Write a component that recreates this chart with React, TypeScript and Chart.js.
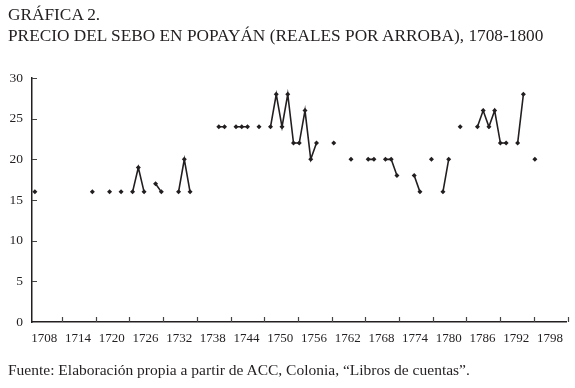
import React, { useEffect, useRef } from "react";
import { Chart, registerables } from "chart.js";

Chart.register(...registerables);

// Observed years and prices (reales por arroba)
const YEARS = [
  1708, 1718, 1721, 1723, 1725, 1726, 1727, 1729, 1730, 1733, 1734, 1735,
  1740, 1741, 1743, 1744, 1745, 1747, 1749, 1750, 1751, 1752, 1753, 1754,
  1755, 1756, 1757, 1760, 1763, 1766, 1767, 1769, 1770, 1771, 1774, 1775,
  1777, 1779, 1780, 1782, 1785, 1786, 1787, 1788, 1789, 1790, 1792, 1793, 1795,
];
const PRICES = [
  16, 16, 16, 16, 16, 19, 16, 17, 16, 16, 20, 16,
  24, 24, 24, 24, 24, 24, 24, 28, 24, 28, 22, 22,
  26, 20, 22, 22, 20, 20, 20, 20, 20, 18, 18, 16,
  20, 16, 20, 24, 24, 26, 24, 26, 22, 22, 22, 28, 20,
];
const X_LABELS = [
  "1708", "1714", "1720", "1726", "1732", "1738", "1744", "1750",
  "1756", "1762", "1768", "1774", "1780", "1786", "1792", "1798",
];
const Y_TICKS = [0, 5, 10, 15, 20, 25, 30];

const TITLE_1 = "GRÁFICA 2.";
const TITLE_2 = "PRECIO DEL SEBO EN POPAYÁN (REALES POR ARROBA), 1708-1800";
const SOURCE = "Fuente: Elaboración propia a partir de ACC, Colonia, “Libros de cuentas”.";

// axis layout (in year units)
const X_MIN = 1707.5;
const X_MAX = 1800.5;
const TICK_START = 1712.72;
const TICK_STEP = 5.865;
const LABEL_START = 1709.64;

const INK = "#231f20";
const FONT = "'Liberation Serif', 'Times New Roman', serif";

function buildPoints() {
  const pts: { x: number; y: number | null }[] = [];
  YEARS.forEach((yr, i) => {
    if (i > 0 && yr - YEARS[i - 1] > 1) pts.push({ x: yr - 0.5, y: null });
    pts.push({ x: yr, y: PRICES[i] });
  });
  return pts;
}

const tickMarks = {
  id: "tickMarks",
  afterDraw(chart: any) {
    const ctx = chart.ctx;
    const xs = chart.scales.x;
    const ys = chart.scales.y;
    const area = chart.chartArea;
    ctx.save();
    ctx.strokeStyle = "#444";
    ctx.lineWidth = 1.2;
    ctx.beginPath();
    for (let k = 0; k < X_LABELS.length; k++) {
      const px = Math.round(xs.getPixelForValue(TICK_START + k * TICK_STEP)) + 0.5;
      ctx.moveTo(px, area.bottom);
      ctx.lineTo(px, area.bottom - 5);
    }
    Y_TICKS.forEach((v) => {
      if (v === 0) return;
      const py = Math.round(ys.getPixelForValue(v)) + 0.5;
      ctx.moveTo(area.left, py);
      ctx.lineTo(area.left + 5, py);
    });
    ctx.stroke();
    ctx.restore();
  },
};

export default function App() {
  const ref = useRef<HTMLCanvasElement | null>(null);

  useEffect(() => {
    if (!ref.current) return;
    const chart = new Chart(ref.current, {
      type: "line",
      data: {
        datasets: [
          {
            data: buildPoints() as any,
            borderColor: INK,
            borderWidth: 1.6,
            backgroundColor: INK,
            pointStyle: "rectRot",
            pointRadius: 2.5,
            pointBorderWidth: 0,
            pointBackgroundColor: INK,
            spanGaps: false,
            tension: 0,
          },
        ],
      },
      options: {
        responsive: false,
        animation: false,
        events: [],
        layout: { padding: { top: 78, right: 8.5, bottom: 40, left: 0 } },
        plugins: { legend: { display: false }, tooltip: { enabled: false } },
        scales: {
          x: {
            type: "linear",
            min: X_MIN,
            max: X_MAX,
            afterFit: (s: any) => {
              s.height = 26;
            },
            afterBuildTicks: (s: any) => {
              s.ticks = X_LABELS.map((_, i) => ({ value: LABEL_START + i * TICK_STEP }));
            },
            grid: { display: false, drawTicks: false },
            border: { display: true, color: INK, width: 1.5 },
            ticks: {
              autoSkip: false,
              maxRotation: 0,
              padding: 9,
              color: INK,
              font: { family: FONT, size: 13 },
              callback: (_v: any, i: number) => X_LABELS[i],
            },
          },
          y: {
            min: 0,
            max: 30,
            afterFit: (s: any) => {
              s.width = 32;
            },
            afterBuildTicks: (s: any) => {
              s.ticks = Y_TICKS.map((v) => ({ value: v }));
            },
            grid: { display: false, drawTicks: false },
            border: { display: true, color: INK, width: 1.5 },
            ticks: {
              padding: 9,
              color: INK,
              font: { family: FONT, size: 13.5 },
            },
          },
        },
      },
      plugins: [tickMarks],
    });
    return () => chart.destroy();
  }, []);

  const textStyle: React.CSSProperties = {
    position: "absolute",
    left: 8,
    fontFamily: FONT,
    color: INK,
    whiteSpace: "nowrap",
    lineHeight: "20px",
  };

  return (
    <div style={{ position: "fixed", left: 0, top: 0, width: 575, height: 388, background: "#fff", overflow: "hidden" }}>
      <canvas ref={ref} width={575} height={388} style={{ position: "absolute", left: 0, top: 0 }} />
      <div style={{ ...textStyle, top: 5, fontSize: 17.3 }}>{TITLE_1}</div>
      <div style={{ ...textStyle, top: 26, fontSize: 17.3 }}>{TITLE_2}</div>
      <div style={{ ...textStyle, top: 360, fontSize: 15.5 }}>{SOURCE}</div>
    </div>
  );
}
